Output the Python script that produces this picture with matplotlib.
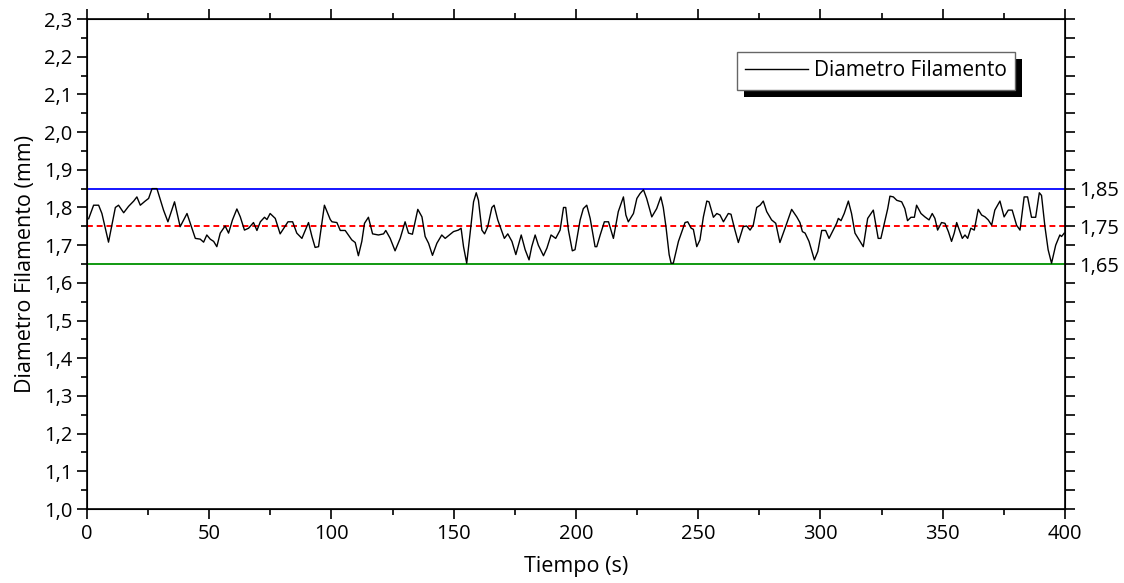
import matplotlib
matplotlib.use("Agg")
import matplotlib.pyplot as plt
from matplotlib.ticker import MultipleLocator, FuncFormatter, FixedLocator
from matplotlib.patches import Rectangle
import numpy as np

plt.rcParams['font.family'] = ['Open Sans', 'DejaVu Sans']

# ---- data ----
t1 = [0.67, 2.7, 4.75, 6.1, 8.8, 11.6, 12.9, 15.0, 17.0, 19.1, 20.4, 21.8, 23.8, 25.2, 26.6, 28.6,
      31.3, 33.1, 35.8, 38.1, 40.9, 44.3, 46.3, 47.7, 49.0, 50.4]
d1 = [1.770, 1.806, 1.806, 1.784, 1.708, 1.800, 1.806, 1.786, 1.803, 1.817, 1.828, 1.806, 1.817, 1.824, 1.850, 1.850,
      1.793, 1.762, 1.815, 1.749, 1.784, 1.718, 1.716, 1.708, 1.727, 1.716]
t2 = [51.8, 53.1, 54.5, 56.5, 57.9, 59.5, 61.3, 62.7, 64.4, 66.1, 68.1, 69.5, 70.9, 72.6, 73.6, 74.9,
      77.0, 79.0, 82.2, 84.1, 85.8, 87.9, 90.6, 92.0, 93.3, 94.7, 97.1, 99.5]
d2 = [1.710, 1.696, 1.732, 1.751, 1.732, 1.767, 1.796, 1.775, 1.740, 1.745, 1.760, 1.739, 1.762, 1.774, 1.768, 1.784,
      1.771, 1.730, 1.762, 1.762, 1.732, 1.718, 1.760, 1.723, 1.694, 1.696, 1.806, 1.768]
t3 = [100.2, 102.2, 103.6, 105.6, 108.3, 109.7, 111.0, 112.4, 113.5, 115.1, 116.8, 119.2, 121.3, 122.2, 124.0,
      126.0, 128.1, 130.1, 131.5, 133.1, 135.3, 137.0, 138.3, 139.7, 141.3, 143.1, 145.1, 146.5]
d3 = [1.762, 1.760, 1.739, 1.739, 1.714, 1.707, 1.672, 1.710, 1.758, 1.774, 1.730, 1.727, 1.730, 1.739, 1.718,
      1.685, 1.718, 1.762, 1.732, 1.729, 1.795, 1.775, 1.723, 1.705, 1.673, 1.705, 1.727, 1.718]
t4 = [149.9, 151.9, 153.0, 154.0, 155.3, 156.7, 158.1, 159.2, 160.1, 161.5, 162.6, 163.9, 165.6, 166.5, 168.0,
      169.0, 170.7, 172.1, 173.8, 175.4, 177.6, 179.2, 180.8, 181.9, 183.3, 184.6, 186.7, 188.1, 189.8, 191.7,
      193.5, 194.9, 195.8]
d4 = [1.736, 1.740, 1.745, 1.696, 1.652, 1.732, 1.815, 1.839, 1.819, 1.740, 1.730, 1.749, 1.800, 1.806, 1.767,
      1.749, 1.718, 1.730, 1.710, 1.675, 1.727, 1.688, 1.661, 1.696, 1.727, 1.700, 1.672, 1.692, 1.727, 1.718,
      1.740, 1.800, 1.800]
t5 = [196.9, 198.5, 199.6, 201.7, 203.0, 204.4, 205.8, 207.8, 208.5, 209.9, 211.6, 213.3, 215.3, 217.3, 219.4,
      220.4, 221.4, 223.5, 224.9, 226.2, 227.6, 228.9, 231.0, 233.0, 234.7, 235.7, 236.8, 238.1, 238.9, 239.8,
      241.9, 243.3]
d5 = [1.740, 1.685, 1.688, 1.767, 1.797, 1.806, 1.771, 1.696, 1.696, 1.727, 1.762, 1.762, 1.718, 1.789, 1.828,
      1.780, 1.762, 1.784, 1.824, 1.837, 1.847, 1.824, 1.775, 1.797, 1.828, 1.800, 1.749, 1.675, 1.652, 1.652,
      1.710, 1.736]
t6 = [244.6, 245.7, 247.1, 248.0, 249.4, 250.7, 252.1, 253.5, 254.4, 256.2, 257.6, 258.9, 260.3, 262.3, 263.4,
      264.8, 266.4, 268.4, 269.8, 271.2, 272.5, 273.9, 275.3, 276.6, 278.0, 280.0, 281.7, 283.4, 285.5, 288.2,
      290.3, 291.6, 292.6]
d6 = [1.760, 1.762, 1.745, 1.742, 1.696, 1.714, 1.775, 1.817, 1.815, 1.774, 1.784, 1.780, 1.762, 1.784, 1.782,
      1.745, 1.707, 1.749, 1.751, 1.740, 1.753, 1.800, 1.806, 1.817, 1.789, 1.767, 1.758, 1.707, 1.745, 1.795,
      1.775, 1.760, 1.736]
t7 = [293.7, 295.3, 297.5, 298.9, 300.5, 302.1, 303.5, 305.2, 306.6, 307.3, 308.4, 309.7, 311.4, 312.7, 314.1,
      316.2, 317.5, 319.3, 321.6, 323.6, 324.7, 326.1, 327.5, 328.4, 329.8, 331.2, 333.2, 334.5, 335.6, 337.0,
      338.4, 339.3, 341.1]
d7 = [1.732, 1.710, 1.661, 1.683, 1.739, 1.739, 1.718, 1.740, 1.758, 1.771, 1.765, 1.784, 1.817, 1.784, 1.732,
      1.710, 1.696, 1.771, 1.793, 1.718, 1.718, 1.758, 1.797, 1.830, 1.828, 1.819, 1.815, 1.797, 1.765, 1.774,
      1.774, 1.806, 1.784]
t8 = [342.7, 344.4, 345.7, 346.8, 347.9, 349.5, 350.9, 352.3, 353.6, 354.7, 355.7, 357.0, 358.0, 359.1, 360.2,
      361.5, 362.9, 364.5, 365.9, 367.3, 368.6, 370.0, 371.3, 373.4, 375.1, 376.8, 378.4, 380.2, 381.6, 383.3,
      384.7, 386.3, 388.0, 389.5, 390.4, 391.8, 393.1, 394.5, 396.2, 397.9, 398.6, 399.7]
d8 = [1.775, 1.767, 1.784, 1.771, 1.740, 1.760, 1.758, 1.736, 1.710, 1.732, 1.760, 1.736, 1.718, 1.727, 1.718,
      1.745, 1.740, 1.795, 1.780, 1.775, 1.767, 1.753, 1.793, 1.817, 1.775, 1.793, 1.793, 1.753, 1.740, 1.828,
      1.828, 1.774, 1.774, 1.839, 1.832, 1.749, 1.688, 1.652, 1.700, 1.727, 1.723, 1.732]

tiempo = t1 + t2 + t3 + t4 + t5 + t6 + t7 + t8
diametro = d1 + d2 + d3 + d4 + d5 + d6 + d7 + d8

limite_sup = 1.85
nominal = 1.75
limite_inf = 1.65
x_range = [0, 400]

# ---- figure ----
fig = plt.figure(figsize=(11.24, 5.83), dpi=100)
ax = fig.add_axes([0.0774, 0.1269, 0.8701, 0.8405])

ax.plot(tiempo, diametro, color='black', lw=1.0, label='Diametro Filamento', zorder=3)
ax.plot(x_range, [limite_sup] * 2, color='#1515ff', lw=1.4, zorder=2)
ax.plot(x_range, [nominal] * 2, color='#ff0000', lw=1.4, ls=(0, (3, 2)), zorder=2)
ax.plot(x_range, [limite_inf] * 2, color='#119911', lw=1.4, zorder=2)

ax.set_xlim(0, 400)
ax.set_ylim(1.0, 2.3)

comma = lambda fmt: FuncFormatter(lambda v, p: (fmt % v).replace('.', ','))
ax.xaxis.set_major_locator(MultipleLocator(50))
ax.xaxis.set_minor_locator(MultipleLocator(25))
ax.yaxis.set_major_locator(MultipleLocator(0.1))
ax.yaxis.set_minor_locator(MultipleLocator(0.05))
ax.yaxis.set_major_formatter(comma('%.1f'))
ax.xaxis.set_major_formatter(FuncFormatter(lambda v, p: '%d' % v))

ax.tick_params(which='both', direction='out', width=1.2, labelsize=14.5, top=True, right=False)
ax.tick_params(which='major', length=7)
ax.tick_params(which='minor', length=4)
for s in ax.spines.values():
    s.set_linewidth(1.2)

ax2 = ax.twinx()
ax2.set_ylim(1.0, 2.3)
ax2.yaxis.set_major_locator(FixedLocator([limite_inf, nominal, limite_sup]))
ax2.yaxis.set_minor_locator(MultipleLocator(0.05))
ax2.yaxis.set_major_formatter(comma('%.2f'))
ax2.tick_params(which='both', direction='out', width=1.2, labelsize=14.5)
ax2.tick_params(which='major', length=7)
ax2.tick_params(which='minor', length=7)

ax.set_xlabel('Tiempo (s)', fontsize=15.5, labelpad=9)
ax.set_ylabel('Diametro Filamento (mm)', fontsize=15.5, labelpad=6)

leg = ax.legend(loc='upper right', bbox_to_anchor=(0.949, 0.933), fontsize=15,
                frameon=True, fancybox=False, shadow=False, framealpha=1.0,
                handlelength=3.0, borderpad=0.4, handletextpad=0.3, borderaxespad=0)
leg.get_frame().set_edgecolor('#666666')
leg.get_frame().set_linewidth(1.0)
leg.set_zorder(10)

fig.canvas.draw()
bb = leg.get_window_extent()
off = 7
shadow = Rectangle((bb.x0 + off, bb.y0 - off), bb.width, bb.height, transform=None,
                   facecolor='black', edgecolor='none', zorder=9)
ax.add_artist(shadow)

fig.savefig('out.png', dpi=100)
